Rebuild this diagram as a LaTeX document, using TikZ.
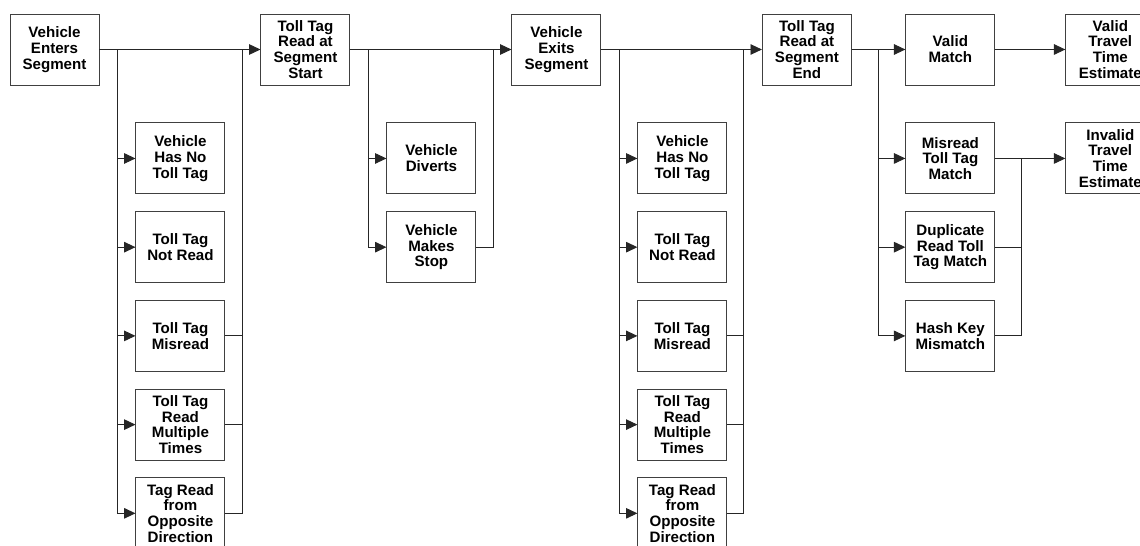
\documentclass[tikz,border=0pt]{standalone}
\usepackage{fontspec}
\setmainfont{Liberation Sans}
\usetikzlibrary{arrows.meta, positioning}

\begin{document}
\begin{tikzpicture}[
      node distance=0.335cm,
      box/.style={draw=black!75, line width=0.55pt, fill=white,
                  minimum width=1.78cm, minimum height=1.42cm, inner sep=0pt,
                  font=\fontsize{8.6}{9}\selectfont\bfseries, align=center},
      link/.style={draw=black!85, line width=0.55pt},
      arr/.style={link, -{Triangle[length=6.5pt, width=6pt]}}]

    \useasboundingbox (0,0) rectangle (22.8,-10.92);

    % ── Main row ──
    \node[box] (enters) at (1.09,-0.99) {Vehicle\\Enters\\Segment};
    \node[box, right=3.22cm of enters] (start) {Toll Tag\\Read at\\Segment\\Start};
    \node[box, right=3.22cm of start] (exits) {Vehicle\\Exits\\Segment};
    \node[box, right=3.21cm of exits] (segend) {Toll Tag\\Read at\\Segment\\End};
    \node[box, right=1.07cm of segend] (valid) {Valid\\Match};
    \node[box, right=1.40cm of valid] (validtt) {Valid\\Travel\\Time\\Estimate};

    % ── Entry failures ──
    \node[box, below right=0.74cm and 0.72cm of enters] (notag1) {Vehicle\\Has No\\Toll Tag};
    \node[box, below=of notag1] (notread1) {Toll Tag\\Not Read};
    \node[box, below=of notread1] (misread1) {Toll Tag\\Misread};
    \node[box, below=of misread1] (multi1) {Toll Tag\\Read\\Multiple\\Times};
    \node[box, below=of multi1] (opp1) {Tag Read\\from\\Opposite\\Direction};

    % ── Trip events ──
    \node[box, below right=0.74cm and 0.72cm of start] (diverts) {Vehicle\\Diverts};
    \node[box, below=of diverts] (stop) {Vehicle\\Makes\\Stop};

    % ── Exit failures ──
    \node[box, below right=0.74cm and 0.72cm of exits] (notag2) {Vehicle\\Has No\\Toll Tag};
    \node[box, below=of notag2] (notread2) {Toll Tag\\Not Read};
    \node[box, below=of notread2] (misread2) {Toll Tag\\Misread};
    \node[box, below=of misread2] (multi2) {Toll Tag\\Read\\Multiple\\Times};
    \node[box, below=of multi2] (opp2) {Tag Read\\from\\Opposite\\Direction};

    % ── Matching ──
    \node[box, below=0.74cm of valid] (misreadm) {Misread\\Toll Tag\\Match};
    \node[box, below=of misreadm] (dupm) {Duplicate\\Read Toll\\Tag Match};
    \node[box, below=of dupm] (hashm) {Hash Key\\Mismatch};
    \node[box, right=1.40cm of misreadm] (invalidtt) {Invalid\\Travel\\Time\\Estimate};

    % ── Junctions ──
    \coordinate[right=0.36cm of enters.east] (j1);
    \coordinate[left=0.36cm of start.west] (r1);
    \coordinate[right=0.36cm of start.east] (j2);
    \coordinate[left=0.36cm of exits.west] (r2);
    \coordinate[right=0.36cm of exits.east] (j3);
    \coordinate[left=0.36cm of segend.west] (r3);
    \coordinate[right=0.54cm of segend.east] (j4);
    \coordinate[left=0.88cm of invalidtt.west] (c4);

    % ── Main flow ──
    \draw[arr] (enters) -- (start);
    \draw[arr] (start) -- (exits);
    \draw[arr] (exits) -- (segend);
    \draw[arr] (segend) -- (valid);
    \draw[arr] (valid) -- (validtt);
    \draw[arr] (misreadm) -- (invalidtt);

    % ── Branches at entry ──
    \draw[arr] (j1) |- (notag1);
    \draw[arr] (j1) |- (notread1);
    \draw[arr] (j1) |- (misread1);
    \draw[arr] (j1) |- (multi1);
    \draw[arr] (j1) |- (opp1);
    \draw[link] (misread1) -| (r1);
    \draw[link] (multi1) -| (r1);
    \draw[link] (opp1) -| (r1);

    % ── Branches on the way ──
    \draw[arr] (j2) |- (diverts);
    \draw[arr] (j2) |- (stop);
    \draw[link] (stop) -| (r2);

    % ── Branches at exit ──
    \draw[arr] (j3) |- (notag2);
    \draw[arr] (j3) |- (notread2);
    \draw[arr] (j3) |- (misread2);
    \draw[arr] (j3) |- (multi2);
    \draw[arr] (j3) |- (opp2);
    \draw[link] (misread2) -| (r3);
    \draw[link] (multi2) -| (r3);
    \draw[link] (opp2) -| (r3);

    % ── Match outcomes ──
    \draw[arr] (j4) |- (misreadm);
    \draw[arr] (j4) |- (dupm);
    \draw[arr] (j4) |- (hashm);
    \draw[link] (dupm) -| (c4);
    \draw[link] (hashm) -| (c4);

  \end{tikzpicture}
\end{document}
